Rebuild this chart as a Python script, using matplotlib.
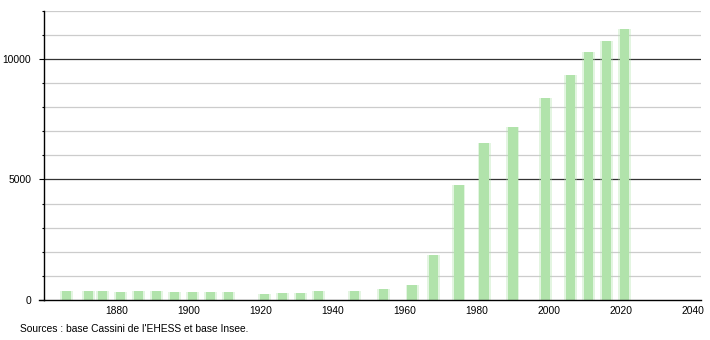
import matplotlib
matplotlib.use("Agg")
import matplotlib.pyplot as plt
from matplotlib.ticker import MultipleLocator

years = [1866, 1872, 1876, 1881, 1886, 1891, 1896, 1901, 1906, 1911,
         1921, 1926, 1931, 1936, 1946, 1954, 1962, 1968, 1975, 1982,
         1990, 1999, 2006, 2011, 2016, 2021]
population = [370, 380, 380, 320, 370, 370, 320, 320, 320, 320,
              250, 290, 290, 360, 373, 460, 622, 1867, 4772, 6502,
              7178, 8382, 9323, 10303, 10747, 11232]
x_ticks = [1880, 1900, 1920, 1940, 1960, 1980, 2000, 2020, 2040]
y_ticks = [0, 5000, 10000]
source = "Sources : base Cassini de l'EHESS et base Insee."

plt.rcParams['font.family'] = ['Liberation Sans', 'DejaVu Sans']

fig = plt.figure(figsize=(7.1, 3.4), dpi=100)
ax = fig.add_axes([44/710, 40/340, (700.7-44)/710, (300-10.7)/340])

ax.set_xlim(1859.7, 2042.2)
ax.set_ylim(0, 12000)

# minor and major grid
for v in range(1000, 12001, 1000):
    if v % 5000 == 0:
        ax.axhline(v, color='#333333', lw=0.9, zorder=1)
    else:
        ax.axhline(v, color='#cccccc', lw=0.9, zorder=1)

bar_color = '#b1e3ab'
ax.bar(years, population, width=3.6, color=bar_color, alpha=0.35, zorder=2, linewidth=0)
ax.bar(years, population, width=2.6, color=bar_color, zorder=3, linewidth=0)

for s in ['top', 'right']:
    ax.spines[s].set_visible(False)
ax.spines['left'].set_color('#000000')
ax.spines['left'].set_linewidth(1.0)
ax.spines['bottom'].set_color('#000000')
ax.spines['bottom'].set_linewidth(1.0)
ax.spines['bottom'].set_zorder(4)

ax.set_xticks(x_ticks)
ax.set_xticklabels([str(t) for t in x_ticks], fontsize=7.4)
ax.tick_params(axis='x', length=0, pad=4)

ax.set_yticks(y_ticks)
ax.set_yticklabels([str(t) for t in y_ticks], fontsize=7.4)
ax.yaxis.set_minor_locator(MultipleLocator(1000))
ax.tick_params(axis='y', which='major', length=3.6, width=0.8, pad=5.5)
ax.tick_params(axis='y', which='minor', length=1.8, width=0.8)

# extend baseline slightly left like the reference
ax.plot([-0.008, 0], [0, 0], transform=ax.transAxes, color='black', lw=1.0, clip_on=False)

fig.text(20/710, 1 - 329/340, source, fontsize=7.4, va='center', ha='left')

fig.savefig('out.png', dpi=100)
